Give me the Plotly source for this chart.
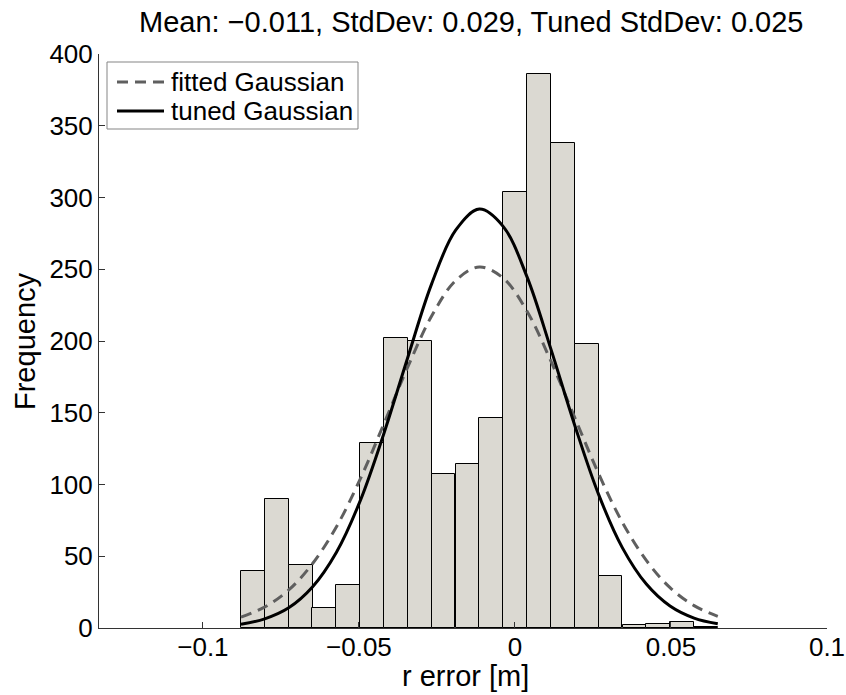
import plotly.graph_objects as go
import numpy as np

# ---- data ----
bin_centers = [-0.0840, -0.0763, -0.0687, -0.0611, -0.0534, -0.0458, -0.0381, -0.0305,
               -0.0229, -0.0152, -0.0076, 0.0001, 0.0077, 0.0153, 0.0230, 0.0306,
               0.0383, 0.0459, 0.0535, 0.0612]
counts = [40, 90, 44, 14, 30, 129, 202, 200, 107, 114, 146, 304, 386, 338, 198, 36, 2, 3, 4, 1]

curve_x = [-0.0878, -0.0802, -0.0725, -0.0649, -0.0572, -0.0496, -0.0420, -0.0343,
           -0.0267, -0.0190, -0.0114, -0.0038, 0.0039, 0.0115, 0.0192, 0.0268,
           0.0344, 0.0421, 0.0497, 0.0574, 0.0650]
fitted_y = [7.6, 14.6, 26.5, 44.8, 70.6, 103.7, 142.3, 182.1, 217.4, 242.1, 251.6,
            243.9, 220.6, 186.1, 146.5, 107.6, 73.7, 47.1, 28.1, 15.6, 8.1]
tuned_y = [2.6, 6.4, 14.1, 28.6, 52.8, 88.6, 135.6, 188.9, 239.8, 277.2, 291.9,
           279.9, 244.5, 194.5, 141.0, 93.1, 56.0, 30.6, 15.3, 6.9, 2.9]

series_names = ["fitted Gaussian", "tuned Gaussian"]

x_tickvals = [-0.1, -0.05, 0, 0.05, 0.1]
x_ticktext = ["\u22120.1", "\u22120.05", "0", "0.05", "0.1"]
y_tickvals = [0, 50, 100, 150, 200, 250, 300, 350, 400]

title_text = "Mean: \u22120.011, StdDev: 0.029, Tuned StdDev: 0.025"
x_title = "r error [m]"
y_title = "Frequency"

# ---- styling / layout ----
FONT = "Liberation Sans, Arial, Helvetica, sans-serif"
FS = 26          # tick / legend font
FS_T = 29        # title & axis labels
W, H = 846, 695
ML, MR, MT, MB = 99, 19, 54, 67
PW, PH = W - ML - MR, H - MT - MB

DASH = "11px,7px"
FIT_COLOR = "#5f5f5f"


def px_x(px):
    return (px - ML) / PW


def px_y(py):
    return (H - MB - py) / PH


bin_width = float(np.mean(np.diff(bin_centers)))

fig = go.Figure()
fig.add_trace(go.Bar(
    x=bin_centers, y=counts, width=bin_width,
    marker=dict(color="#dbd9d2", line=dict(color="black", width=1)),
    showlegend=False, hoverinfo="x+y",
))
fig.add_trace(go.Scatter(
    x=curve_x, y=fitted_y, mode="lines", name=series_names[0], showlegend=False,
    line=dict(color=FIT_COLOR, width=3, dash=DASH, shape="spline"),
))
fig.add_trace(go.Scatter(
    x=curve_x, y=tuned_y, mode="lines", name=series_names[1], showlegend=False,
    line=dict(color="black", width=3, shape="spline"),
))

# ---- legend drawn as box + sample lines + labels ----
shapes = [
    dict(type="rect", xref="paper", yref="paper",
         x0=px_x(107), x1=px_x(358), y0=px_y(129), y1=px_y(62),
         line=dict(color="#858585", width=1), fillcolor="white", layer="above"),
    dict(type="line", xref="paper", yref="paper",
         x0=px_x(117), x1=px_x(164), y0=px_y(82), y1=px_y(82),
         line=dict(color=FIT_COLOR, width=3, dash=DASH), layer="above"),
    dict(type="line", xref="paper", yref="paper",
         x0=px_x(117), x1=px_x(164), y0=px_y(111), y1=px_y(111),
         line=dict(color="black", width=3), layer="above"),
]
annotations = [
    dict(text=series_names[0], xref="paper", yref="paper", x=px_x(169), y=px_y(82),
         xanchor="left", yanchor="middle", showarrow=False,
         font=dict(family=FONT, size=FS, color="black")),
    dict(text=series_names[1], xref="paper", yref="paper", x=px_x(169), y=px_y(111),
         xanchor="left", yanchor="middle", showarrow=False,
         font=dict(family=FONT, size=FS, color="black")),
    dict(text=title_text, xref="paper", yref="paper", x=px_x(472), y=px_y(22),
         xanchor="center", yanchor="middle", showarrow=False,
         font=dict(family=FONT, size=FS_T, color="black")),
    dict(text=x_title, xref="paper", yref="paper", x=px_x(465), y=px_y(694),
         xanchor="center", yanchor="bottom", showarrow=False,
         font=dict(family=FONT, size=FS_T, color="black")),
    dict(text=y_title, xref="paper", yref="paper", x=px_x(25), y=px_y(341),
         xanchor="center", yanchor="middle", showarrow=False, textangle=-90,
         font=dict(family=FONT, size=FS_T, color="black")),
]

fig.update_layout(
    template="none",
    width=W, height=H,
    margin=dict(l=ML, r=MR, t=MT, b=MB, pad=0, autoexpand=False),
    paper_bgcolor="white", plot_bgcolor="white",
    font=dict(family=FONT, size=FS, color="black"),
    bargap=0, showlegend=False,
    shapes=shapes, annotations=annotations,
)
fig.update_xaxes(
    range=[-0.1333, 0.1], tickvals=x_tickvals, ticktext=x_ticktext,
    ticks="inside", ticklen=6, tickcolor="#333", showline=True, linecolor="#333",
    linewidth=1, showgrid=False, zeroline=False, mirror=False, automargin=False,
    ticklabelstandoff=-4,
    tickfont=dict(family=FONT, size=FS),
)
fig.update_yaxes(
    range=[0, 400], tickvals=y_tickvals,
    ticks="inside", ticklen=6, tickcolor="#333", showline=True, linecolor="#333",
    linewidth=1, showgrid=False, zeroline=False, mirror=False, automargin=False,
    tickfont=dict(family=FONT, size=FS),
)

fig.write_html(
    "out.html",
    config={"displayModeBar": False},
    post_script="document.body.style.margin='0px';document.body.style.padding='0px';",
)
